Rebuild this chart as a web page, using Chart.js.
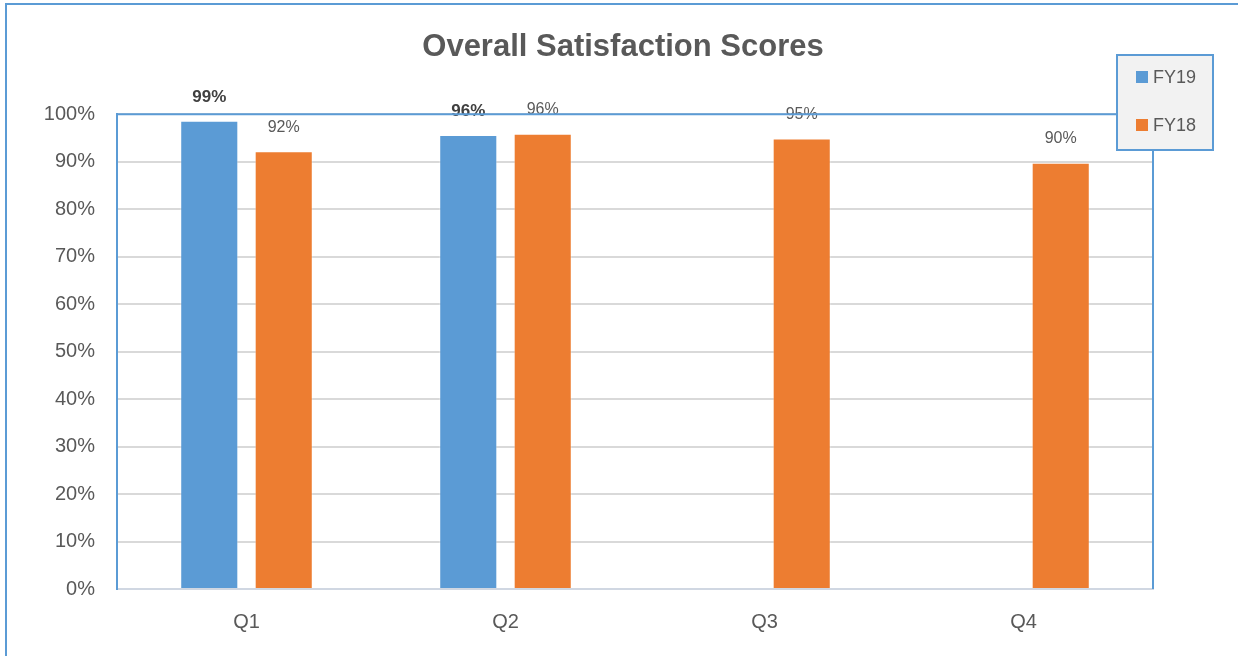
<!DOCTYPE html>
<html>
<head>
<meta charset="utf-8">
<script src="https://cdn.jsdelivr.net/npm/chart.js@4/dist/chart.umd.min.js"></script>
<style>
  html, body { margin: 0; padding: 0; background: #ffffff; }
  #wrap { width: 1238px; height: 656px; position: relative; }
</style>
</head>
<body>
<div id="wrap"><canvas id="c" width="1238" height="656"></canvas></div>
<script>
const categories = ['Q1', 'Q2', 'Q3', 'Q4'];
const fy19Values = [98.6, 95.6, null, null];
const fy18Values = [92.2, 95.9, 94.9, 89.8];
const seriesNames = ['FY19', 'FY18'];
const yTicks = [0, 10, 20, 30, 40, 50, 60, 70, 80, 90, 100];

const BLUE = '#5B9BD5';
const ORANGE = '#ED7D31';
const TEXT = '#595959';
const FONT = "'Liberation Sans', Arial, sans-serif";

const framePlugin = {
  id: 'frame',
  beforeDraw(chart) {
    const ctx = chart.ctx;
    ctx.save();
    ctx.strokeStyle = BLUE;
    ctx.lineWidth = 2;
    ctx.beginPath();
    ctx.moveTo(6, 656);
    ctx.lineTo(6, 4);
    ctx.lineTo(1238, 4);
    ctx.stroke();
    ctx.restore();
  },
  afterDraw(chart) {
    const a = chart.chartArea;
    const ctx = chart.ctx;
    ctx.save();
    ctx.strokeStyle = BLUE;
    ctx.lineWidth = 2;
    ctx.beginPath();
    ctx.moveTo(a.left, a.top);
    ctx.lineTo(a.right, a.top);
    ctx.lineTo(a.right, a.bottom);
    ctx.stroke();
    ctx.restore();
  }
};

const labelPlugin = {
  id: 'barLabels',
  afterDatasetsDraw(chart) {
    const ctx = chart.ctx;
    ctx.save();
    ctx.textAlign = 'center';
    ctx.textBaseline = 'middle';
    chart.data.datasets.forEach((ds, di) => {
      const meta = chart.getDatasetMeta(di);
      meta.data.forEach((el, i) => {
        const v = ds.data[i];
        if (v === null || v === undefined) return;
        if (di === 0) {
          ctx.font = "bold 17px " + FONT;
          ctx.fillStyle = '#404040';
        } else {
          ctx.font = "16px " + FONT;
          ctx.fillStyle = TEXT;
        }
        ctx.fillText(Math.round(v) + '%', el.x, el.y - 24);
      });
    });
    ctx.restore();
  }
};

const legendPlugin = {
  id: 'boxLegend',
  afterDraw(chart) {
    const ctx = chart.ctx;
    const x = 1117, y = 55, w = 96, h = 95;
    ctx.save();
    ctx.fillStyle = '#f2f2f2';
    ctx.fillRect(x, y, w, h);
    ctx.strokeStyle = BLUE;
    ctx.lineWidth = 2;
    ctx.strokeRect(x, y, w, h);
    ctx.font = "18px " + FONT;
    ctx.textBaseline = 'middle';
    ctx.textAlign = 'left';
    chart.data.datasets.forEach((ds, i) => {
      const cy = y + 22 + i * 48;
      ctx.fillStyle = ds.backgroundColor;
      ctx.fillRect(x + 19, cy - 6, 12, 12);
      ctx.fillStyle = TEXT;
      ctx.fillText(ds.label, x + 36, cy + 1);
    });
    ctx.restore();
  }
};

new Chart(document.getElementById('c'), {
  type: 'bar',
  data: {
    labels: categories,
    datasets: [
      { label: seriesNames[0], data: fy19Values, backgroundColor: BLUE, borderColor: 'rgba(255,255,255,0.35)', borderWidth: 1 },
      { label: seriesNames[1], data: fy18Values, backgroundColor: ORANGE, borderColor: 'rgba(255,255,255,0.35)', borderWidth: 1 }
    ]
  },
  options: {
    responsive: false,
    animation: false,
    devicePixelRatio: 1,
    categoryPercentage: 0.575,
    barPercentage: 0.78,
    layout: { padding: { left: 8, right: 0, top: 0, bottom: 0 } },
    plugins: {
      legend: { display: false },
      tooltip: { enabled: false },
      title: {
        display: true,
        text: 'Overall Satisfaction Scores',
        color: TEXT,
        font: { family: FONT, size: 31, weight: 'bold', lineHeight: 1.2 },
        padding: { top: 29, bottom: 48 }
      }
    },
    scales: {
      x: {
        grid: { display: false, drawTicks: false },
        border: { display: true, color: '#d0d7e2', width: 2 },
        ticks: { color: TEXT, font: { family: FONT, size: 20 }, padding: 21 },
        afterFit(scale) { scale.height = 67; }
      },
      y: {
        min: 0,
        max: 100,
        afterBuildTicks(scale) { scale.ticks = yTicks.map(v => ({ value: v })); },
        grid: { color: '#d9d9d9', lineWidth: 2, drawTicks: false },
        border: { display: true, color: BLUE, width: 2 },
        ticks: {
          color: TEXT,
          font: { family: FONT, size: 20 },
          padding: 22,
          callback: v => v + '%'
        },
        afterFit(scale) { scale.width = 109; }
      },
      yRight: {
        position: 'right',
        min: 0,
        max: 100,
        grid: { display: false, drawOnChartArea: false, drawTicks: false },
        border: { display: false },
        ticks: { display: false },
        afterFit(scale) { scale.width = 85; }
      }
    }
  },
  plugins: [framePlugin, labelPlugin, legendPlugin]
});
</script>
</body>
</html>
